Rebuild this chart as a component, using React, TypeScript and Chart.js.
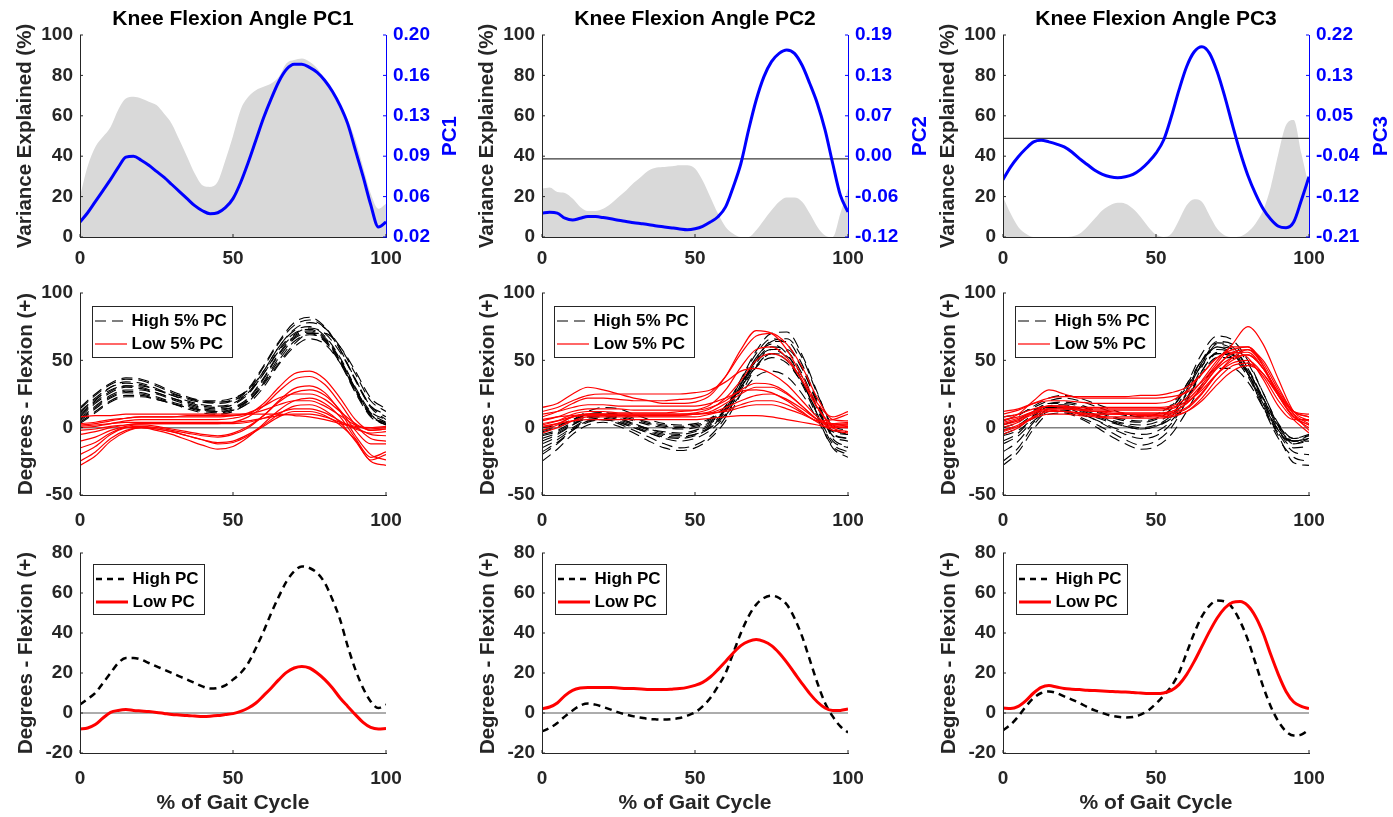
import React, { useEffect, useRef } from 'react';
import { Chart, registerables } from 'chart.js';

Chart.register(...registerables);

const FONT = '"Liberation Sans", Arial, Helvetica, sans-serif';
const INK = '#262626';
const BLUE = '#0000ff';
const RED = '#ff0000';
const GRAY_FILL = '#d9d9d9';

// ---------- categories ----------
const X41 = [0, 2.5, 5, 7.5, 10, 12.5, 15, 17.5, 20, 22.5, 25, 27.5, 30, 32.5, 35, 37.5, 40, 42.5, 45, 47.5, 50,
  52.5, 55, 57.5, 60, 62.5, 65, 67.5, 70, 72.5, 75, 77.5, 80, 82.5, 85, 87.5, 90, 92.5, 95, 97.5, 100];
const X21 = [0, 5, 10, 15, 20, 25, 30, 35, 40, 45, 50, 55, 60, 65, 70, 75, 80, 85, 90, 95, 100];

// ---------- text ----------
const TITLES = ['Knee Flexion Angle PC1', 'Knee Flexion Angle PC2', 'Knee Flexion Angle PC3'];
const PC_NAMES = ['PC1', 'PC2', 'PC3'];
const VAR_TITLE = 'Variance Explained (%)';
const DEG_TITLE = 'Degrees - Flexion (+)';
const X_TITLE = '% of Gait Cycle';
const LEG_MID = ['High 5% PC', 'Low 5% PC'];
const LEG_BOT = ['High PC', 'Low PC'];

// ---------- right-axis tick labels ----------
const RIGHT_MIN = [0.02, -0.12, -0.21];
const RIGHT_MAX = [0.20, 0.19, 0.22];
const RIGHT_LABELS = [
  ['0.02', '0.06', '0.09', '0.13', '0.16', '0.20'],
  ['-0.12', '-0.06', '0.00', '0.07', '0.13', '0.19'],
  ['-0.21', '-0.12', '-0.04', '0.05', '0.13', '0.22'],
];

// ---------- row 1: variance explained (%) ----------
const PC1_VAR = [20, 35, 44.6, 49.6, 54.5, 63, 68.6, 69.4, 68.6, 67, 65.3, 61, 56, 48, 39.7, 31.4, 25.6, 24.8, 27.3, 38, 50,
  63, 69.4, 72.7, 74.4, 76, 79.3, 86, 87.6, 88.4, 86.8, 83.5, 77.7, 71, 64.5, 57.9, 48, 34.7, 21.5, 14, 16.5];
const PC2_VAR = [24, 24.5, 22.3, 21.8, 19, 14.9, 12.9, 12.9, 14, 16.5, 19.8, 23, 26.8, 30, 33, 34.4, 34.7, 35, 35.5, 35.5, 33.9,
  28, 19.8, 11.6, 5, 1.6, 0, 0, 3.3, 8.3, 13.2, 17.4, 19.5, 19.5, 17.4, 11.6, 5, 0.8, 0, 11.6, 24];
const PC3_VAR = [19.8, 11.6, 5, 1.6, 0, 0, 0, 0, 0, 0.3, 1.6, 5, 9.1, 13.2, 15.7, 16.9, 16.5, 14, 9.9, 5, 1.2,
  0, 1.6, 8.3, 15.7, 18.7, 17.4, 10.7, 4.1, 0.8, 0, 0.3, 2.5, 6.6, 13.2, 24.8, 41.3, 55.4, 57.9, 41.3, 24.8];

// ---------- row 1: PC loading vectors ----------
const PC1_LOAD = [0.0333, 0.0416, 0.0515, 0.0614, 0.0713, 0.0821, 0.0911, 0.092, 0.0884, 0.0839, 0.0785, 0.0731, 0.0668,
  0.0605, 0.0542, 0.0479, 0.0434, 0.0407, 0.0416, 0.0461, 0.0542, 0.0686, 0.0866, 0.1064, 0.1262, 0.1433, 0.1586, 0.1694,
  0.1739, 0.1739, 0.1712, 0.1667, 0.1595, 0.1496, 0.137, 0.1208, 0.0974, 0.074, 0.0488, 0.029, 0.0333];
const PC2_LOAD = [-0.0831, -0.0822, -0.0834, -0.0912, -0.094, -0.0912, -0.0884, -0.0887, -0.0902, -0.0921, -0.0943, -0.0961,
  -0.098, -0.0995, -0.1011, -0.103, -0.1045, -0.1061, -0.1076, -0.1088, -0.1073, -0.1036, -0.0971, -0.089, -0.0738, -0.0431,
  -0.0072, 0.044, 0.0902, 0.1258, 0.1491, 0.1618, 0.1671, 0.1618, 0.1435, 0.1156, 0.0846, 0.0443, -0.0072, -0.0558, -0.0816];
const PC3_LOAD = [-0.0879, -0.0608, -0.0393, -0.0217, -0.0075, -0.004, -0.0075, -0.0122, -0.0182, -0.029, -0.0432, -0.0556,
  -0.0681, -0.0767, -0.0819, -0.084, -0.0819, -0.0767, -0.066, -0.0509, -0.0316, -0.0036, 0.0459, 0.1026, 0.1525, 0.1843,
  0.1951, 0.1809, 0.1417, 0.0884, 0.0282, -0.029, -0.0784, -0.1176, -0.1498, -0.1722, -0.1872, -0.1902, -0.1782, -0.1317, -0.0819];

// ---------- row 2: individual curves, high / low 5% ----------
const P1_HIGH = [
  [10, 20, 30, 34, 33, 29, 24, 20, 17, 16, 18, 26, 42, 60, 72, 75, 68, 52, 30, 12, 6],
  [14, 24, 32, 36, 35, 31, 26, 22, 19, 18, 20, 28, 45, 63, 76, 80, 74, 58, 36, 16, 10],
  [6, 15, 23, 27, 26, 23, 19, 16, 13, 12, 14, 21, 36, 54, 67, 71, 65, 49, 27, 9, 3],
  [4, 12, 20, 24, 24, 21, 18, 15, 12, 11, 13, 20, 34, 52, 66, 70, 64, 48, 26, 8, 2],
  [8, 18, 26, 30, 29, 26, 22, 19, 16, 15, 17, 25, 40, 58, 70, 73, 67, 51, 29, 11, 4],
  [12, 22, 30, 33, 32, 28, 24, 21, 19, 19, 20, 26, 40, 57, 69, 74, 70, 56, 36, 16, 8],
  [5, 14, 22, 26, 25, 22, 18, 14, 11, 10, 12, 19, 33, 50, 64, 69, 65, 50, 29, 10, 3],
  [9, 19, 27, 31, 31, 28, 25, 22, 20, 20, 22, 28, 42, 60, 73, 78, 74, 60, 40, 20, 12],
  [7, 16, 24, 28, 28, 25, 21, 17, 14, 13, 15, 22, 37, 55, 68, 72, 66, 50, 28, 9, 2],
  [11, 21, 28, 31, 30, 26, 22, 18, 15, 14, 15, 20, 32, 48, 62, 70, 70, 60, 42, 22, 14],
  [3, 11, 19, 23, 23, 21, 18, 15, 13, 12, 13, 18, 30, 47, 60, 66, 62, 48, 28, 10, 1],
  [15, 25, 33, 37, 36, 32, 27, 23, 20, 19, 21, 29, 46, 64, 78, 82, 75, 58, 35, 15, 6],
];
const P1_LOW = [
  [0, 1, 3, 5, 6, 6, 6, 6, 6, 6, 7, 10, 18, 30, 40, 42, 36, 22, 6, -2, -1],
  [-5, -3, 0, 2, 3, 3, 3, 3, 3, 3, 4, 8, 16, 27, 36, 38, 32, 18, 2, -8, -10],
  [-20, -14, -5, 0, 1, 0, -2, -4, -6, -7, -5, 0, 9, 20, 29, 31, 26, 12, -6, -20, -24],
  [-10, -7, -2, 1, 2, 1, -1, -3, -5, -6, -4, 1, 9, 19, 26, 28, 24, 13, -2, -12, -12],
  [2, 3, 5, 7, 8, 8, 8, 8, 8, 8, 9, 11, 16, 22, 25, 25, 21, 12, 3, -2, -1],
  [-25, -18, -8, -2, 0, -2, -5, -9, -13, -16, -14, -7, 3, 13, 20, 22, 18, 8, -8, -22, -18],
  [3, 4, 6, 7, 8, 8, 8, 9, 9, 9, 9, 10, 13, 17, 20, 20, 16, 9, 2, -1, 0],
  [-15, -11, -4, 0, 0, -1, -3, -6, -9, -11, -10, -5, 2, 10, 16, 17, 13, 4, -10, -25, -28],
  [-2, -1, 1, 2, 3, 3, 3, 3, 3, 3, 3, 4, 7, 11, 14, 14, 11, 5, -1, -4, -3],
  [-28, -21, -10, -3, 0, -1, -3, -6, -9, -12, -11, -6, 1, 8, 12, 12, 9, 2, -9, -24, -20],
  [1, 2, 3, 4, 4, 4, 4, 4, 4, 4, 4, 5, 7, 9, 10, 10, 8, 4, 1, 0, 1],
  [8, 9, 9, 10, 10, 10, 10, 10, 10, 10, 10, 10, 10, 10, 9, 8, 6, 3, 0, -5, -6],
];
const P2_HIGH = [
  [-20, -12, -2, 5, 6, 3, -2, -7, -12, -15, -13, -6, 8, 30, 52, 62, 55, 35, 10, -12, -18],
  [-10, -5, 2, 8, 9, 7, 3, -1, -4, -5, -3, 2, 14, 35, 55, 66, 62, 44, 18, -5, -8],
  [-3, 0, 5, 10, 11, 10, 7, 4, 2, 1, 2, 6, 16, 36, 57, 70, 71, 54, 26, 0, -5],
  [-15, -9, -1, 5, 6, 4, 0, -4, -7, -8, -6, 0, 12, 32, 50, 58, 52, 34, 10, -10, -15],
  [-25, -16, -5, 2, 4, 1, -4, -10, -15, -17, -15, -8, 5, 25, 45, 55, 50, 32, 8, -15, -22],
  [-5, -2, 4, 9, 10, 8, 5, 2, 0, -1, 0, 4, 14, 32, 50, 60, 57, 40, 15, -3, -5],
  [-8, -4, 2, 7, 8, 6, 2, -2, -5, -6, -5, 0, 10, 28, 46, 55, 53, 38, 14, -6, -10],
  [-2, 1, 6, 12, 15, 14, 10, 6, 3, 2, 3, 7, 16, 33, 52, 64, 66, 52, 25, 2, -2],
  [-18, -11, -2, 4, 6, 4, 0, -4, -8, -10, -8, -2, 9, 25, 38, 42, 38, 25, 6, -14, -20],
  [-12, -7, 0, 6, 7, 5, 1, -3, -6, -7, -5, 1, 12, 30, 50, 64, 64, 47, 20, -4, -8],
  [0, 2, 6, 10, 11, 9, 6, 3, 1, 0, 1, 5, 14, 30, 45, 52, 48, 33, 12, -2, -3],
  [-6, -3, 3, 8, 9, 7, 3, -1, -3, -4, -2, 3, 13, 30, 48, 58, 58, 44, 18, -8, -14],
];
const P2_LOW = [
  [15, 18, 25, 30, 28, 25, 22, 20, 18, 18, 19, 24, 38, 58, 72, 70, 58, 38, 18, 8, 12],
  [8, 12, 18, 22, 22, 21, 20, 20, 20, 21, 22, 26, 38, 55, 68, 70, 62, 45, 22, 6, 5],
  [2, 5, 10, 12, 12, 11, 11, 11, 11, 12, 13, 17, 28, 45, 58, 60, 52, 35, 15, 2, 0],
  [12, 15, 20, 24, 25, 25, 25, 25, 25, 25, 26, 28, 34, 42, 44, 40, 32, 20, 8, 2, 3],
  [-2, 2, 8, 10, 10, 10, 10, 10, 10, 10, 11, 14, 22, 35, 50, 55, 50, 35, 15, 0, -3],
  [5, 8, 12, 14, 14, 14, 13, 13, 13, 13, 13, 15, 20, 28, 33, 32, 26, 16, 6, 1, 2],
  [0, 3, 8, 10, 10, 9, 9, 9, 9, 9, 10, 12, 18, 25, 30, 30, 25, 16, 6, 0, 0],
  [10, 12, 15, 17, 17, 16, 16, 16, 16, 16, 16, 18, 22, 27, 28, 26, 20, 12, 5, 6, 10],
  [3, 5, 8, 9, 9, 9, 9, 9, 9, 9, 10, 11, 15, 20, 24, 25, 21, 14, 6, 2, 2],
  [-4, 0, 5, 8, 8, 8, 8, 8, 8, 8, 8, 10, 13, 17, 20, 20, 17, 11, 4, -2, -4],
  [6, 8, 9, 10, 10, 10, 10, 10, 10, 10, 10, 11, 12, 15, 17, 17, 14, 10, 5, 3, 4],
  [1, 3, 5, 6, 6, 6, 6, 6, 6, 6, 6, 7, 8, 9, 9, 8, 6, 4, 2, 0, 1],
];
const P3_HIGH = [
  [-25, -15, 2, 12, 12, 8, 3, -3, -9, -13, -10, 0, 20, 45, 62, 58, 40, 15, -8, -22, -25],
  [-10, -4, 8, 16, 17, 14, 10, 5, 1, -1, 1, 8, 25, 48, 63, 60, 44, 20, -2, -12, -10],
  [0, 4, 12, 18, 18, 16, 12, 8, 5, 4, 6, 14, 32, 55, 68, 65, 50, 26, 3, -8, -5],
  [-18, -10, 4, 14, 15, 11, 6, 0, -5, -8, -6, 3, 20, 42, 56, 54, 40, 18, -4, -18, -20],
  [-5, 0, 9, 15, 15, 13, 9, 5, 2, 0, 2, 9, 26, 48, 60, 58, 44, 22, 0, -10, -8],
  [5, 9, 16, 22, 24, 22, 18, 14, 10, 8, 10, 17, 32, 50, 60, 55, 40, 18, -2, -10, -6],
  [-28, -18, -1, 10, 11, 7, 1, -6, -12, -16, -14, -5, 12, 32, 44, 44, 34, 15, -6, -26, -28],
  [-2, 2, 10, 16, 16, 14, 10, 6, 3, 2, 4, 11, 28, 50, 64, 62, 48, 26, 2, -8, -6],
  [2, 6, 13, 18, 19, 17, 13, 9, 6, 5, 7, 14, 30, 50, 58, 55, 42, 22, 2, -10, -10],
  [-12, -6, 5, 12, 13, 10, 6, 1, -3, -5, -3, 5, 20, 40, 52, 52, 40, 20, -2, -15, -14],
  [-6, -2, 7, 14, 14, 12, 8, 4, 1, -1, 1, 7, 22, 42, 55, 54, 42, 22, 1, -12, -8],
  [8, 10, 15, 20, 22, 20, 16, 12, 9, 8, 10, 16, 30, 46, 55, 52, 38, 16, -4, -10, -8],
];
const P3_LOW = [
  [5, 10, 20, 28, 25, 22, 22, 22, 22, 22, 22, 23, 26, 34, 48, 62, 75, 62, 36, 12, 5],
  [10, 13, 18, 22, 23, 23, 23, 23, 23, 24, 24, 26, 30, 40, 52, 58, 60, 48, 28, 12, 8],
  [0, 4, 12, 16, 15, 14, 13, 13, 13, 13, 13, 14, 20, 32, 46, 55, 56, 44, 24, 8, 2],
  [-5, 0, 8, 12, 12, 11, 10, 10, 10, 10, 10, 11, 15, 26, 40, 52, 58, 50, 30, 10, -2],
  [8, 10, 14, 16, 16, 15, 15, 15, 15, 15, 15, 16, 22, 35, 50, 60, 60, 46, 24, 8, 5],
  [2, 5, 10, 13, 12, 11, 10, 10, 10, 9, 9, 10, 14, 25, 40, 50, 54, 44, 26, 10, 3],
  [12, 14, 18, 20, 20, 19, 18, 18, 18, 18, 18, 20, 27, 40, 52, 56, 52, 36, 16, 6, 6],
  [-3, 1, 7, 10, 10, 9, 8, 7, 7, 7, 7, 8, 12, 22, 36, 46, 48, 38, 20, 6, -4],
  [3, 6, 11, 14, 14, 13, 12, 12, 11, 11, 11, 12, 18, 30, 45, 56, 58, 46, 24, 8, 2],
  [6, 8, 12, 14, 14, 13, 12, 11, 10, 10, 10, 12, 18, 30, 44, 52, 54, 44, 26, 12, 8],
  [-2, 2, 8, 12, 12, 10, 9, 8, 8, 8, 8, 9, 12, 20, 32, 42, 46, 40, 24, 8, 0],
  [4, 7, 12, 16, 16, 15, 14, 14, 14, 14, 14, 15, 19, 28, 40, 48, 50, 40, 24, 12, 10],
];

// ---------- row 3: mean high / low curves ----------
const M1_HIGH = [4.2, 7, 10, 15, 20, 25, 27.5, 27.5, 26.7, 25, 23.3, 21.7, 20, 18.3, 16.7, 15, 13.3, 12.2, 12.5, 13.8, 16.7,
  20, 25, 32.5, 40.8, 50, 58.3, 65.8, 70.8, 73.3, 72.5, 70, 65, 56.7, 46.7, 33.3, 21.7, 12.5, 5.8, 2.5, 4.2];
const M1_LOW = [-8, -7.5, -5.8, -2.5, 0.3, 1.3, 1.7, 1.3, 1, 0.7, 0.3, -0.2, -0.7, -1, -1.3, -1.5, -1.7, -1.6, -1.3, -0.8, -0.3,
  0.8, 2.5, 5, 8.7, 12.5, 16.7, 20.3, 22.5, 23.3, 22.5, 20, 16.7, 12.5, 7.5, 3.3, -0.8, -4.7, -7.2, -8, -7.8];
const M2_HIGH = [-9.2, -7.5, -5, -1.7, 1.3, 3.7, 4.7, 4.2, 3, 1.7, 0.3, -0.8, -1.7, -2.4, -3, -3.2, -3.3, -3, -2.5, -1.3, 0.3,
  3.3, 7.5, 13.3, 20, 30, 40, 48.3, 54.2, 57.5, 58.7, 57.5, 54.2, 47.5, 38.3, 26.7, 15, 5, -1.7, -6.7, -9.7];
const M2_LOW = [2.2, 3, 5, 8.7, 11.3, 12.5, 12.8, 12.8, 12.8, 12.7, 12.5, 12.3, 12.2, 12, 11.7, 11.7, 11.7, 11.9, 12.2, 12.8, 13.8,
  15.3, 18, 21.7, 25.8, 30, 33.7, 35.8, 36.7, 35.8, 33.7, 30, 25.3, 20, 14.7, 9.7, 5.5, 2.5, 1.2, 1.3, 2];
const M3_HIGH = [-8.7, -5.8, -1.7, 3.3, 7.5, 10, 10.8, 10, 8.3, 6.7, 5, 3, 1.3, 0, -1.2, -1.9, -2.2, -2, -0.8, 1.3, 4.7,
  8.7, 13.3, 20, 30, 40, 48.3, 53.7, 56.2, 55.8, 52.5, 45.8, 36.7, 25, 13.3, 3.3, -4.2, -9.2, -11.3, -10.8, -8.3];
const M3_LOW = [2.5, 2.2, 3.3, 6.2, 10, 12.8, 13.7, 13, 12.2, 11.9, 11.7, 11.4, 11.2, 11, 10.8, 10.6, 10.5, 10.2, 10, 9.8, 9.7,
  10, 11.3, 14.2, 19.2, 25.8, 33.3, 40.8, 47.5, 52.5, 55.3, 55.8, 53.7, 48.3, 40, 29.2, 19.2, 10.8, 5.5, 3.3, 2.2];

const VARIANCE = [PC1_VAR, PC2_VAR, PC3_VAR];
const LOADINGS = [PC1_LOAD, PC2_LOAD, PC3_LOAD];
const MID_HIGH = [P1_HIGH, P2_HIGH, P3_HIGH];
const MID_LOW = [P1_LOW, P2_LOW, P3_LOW];
const BOT_HIGH = [M1_HIGH, M2_HIGH, M3_HIGH];
const BOT_LOW = [M1_LOW, M2_LOW, M3_LOW];

// ---------- layout ----------
const COL_LEFT = [80, 542, 1003];
const LEFT_W = 80;
const PLOT_W = 306;

const tickFont = { family: FONT, size: 19, weight: 'bold' as const };
const titleFont = { family: FONT, size: 21, weight: 'bold' as const };
const yLabelFont = { family: FONT, size: 20.5, weight: 'bold' as const };

const pts = (xs: number[], ys: number[]) => ys.map((y, i) => ({ x: xs[i], y }));

// ---------- plugins ----------
const inwardTicks = {
  id: 'inwardTicks',
  afterDraw(chart: any) {
    const { ctx, chartArea: ca } = chart;
    ctx.save();
    ctx.lineWidth = 1;
    Object.values(chart.scales).forEach((s: any) => {
      ctx.strokeStyle = s.options.border.color;
      s.ticks.forEach((t: any) => {
        const p = s.getPixelForValue(t.value);
        ctx.beginPath();
        if (s.axis === 'x') {
          ctx.moveTo(p, ca.bottom);
          ctx.lineTo(p, ca.bottom - 3);
        } else if (s.position === 'left') {
          ctx.moveTo(ca.left, p);
          ctx.lineTo(ca.left + 3, p);
        } else {
          ctx.moveTo(ca.right, p);
          ctx.lineTo(ca.right - 3, p);
        }
        ctx.stroke();
      });
    });
    ctx.restore();
  },
};

const rightTitle = {
  id: 'rightTitle',
  afterDraw(chart: any, _a: any, opts: any) {
    if (!opts || !opts.text) return;
    const { ctx, chartArea } = chart;
    ctx.save();
    ctx.translate(chartArea.right + opts.offset, (chartArea.top + chartArea.bottom) / 2);
    ctx.rotate(-Math.PI / 2);
    ctx.font = `bold 20.5px ${FONT}`;
    ctx.fillStyle = opts.color;
    ctx.textAlign = 'center';
    ctx.textBaseline = 'middle';
    ctx.fillText(opts.text, 0, 0);
    ctx.restore();
  },
};

const boxLegend = {
  id: 'boxLegend',
  afterDraw(chart: any, _a: any, opts: any) {
    if (!opts || !opts.items) return;
    const { ctx, chartArea } = chart;
    const x = Math.round(chartArea.left + opts.dx);
    const y = Math.round(chartArea.top + opts.dy);
    ctx.save();
    ctx.font = `bold 17px ${FONT}`;
    const tw = Math.max(...opts.items.map((it: any) => ctx.measureText(it.label).width));
    const w = Math.round(39.5 + tw + 5.5);
    const h = opts.h;
    ctx.fillStyle = '#ffffff';
    ctx.fillRect(x, y, w, h);
    ctx.strokeStyle = INK;
    ctx.lineWidth = 1;
    ctx.strokeRect(x + 0.5, y + 0.5, w, h);
    opts.items.forEach((it: any, i: number) => {
      const cy = y + 15 + i * 23;
      ctx.beginPath();
      ctx.setLineDash(it.dash || []);
      ctx.strokeStyle = it.color;
      ctx.lineWidth = it.width;
      ctx.moveTo(x + 3, cy);
      ctx.lineTo(x + 35, cy);
      ctx.stroke();
      ctx.setLineDash([]);
      ctx.fillStyle = '#000000';
      ctx.textAlign = 'left';
      ctx.textBaseline = 'middle';
      ctx.fillText(it.label, x + 39.5, cy);
    });
    ctx.restore();
  },
};

// ---------- scale builders ----------
function xScale(withTitle: boolean, labelPad: number) {
  return {
    type: 'linear',
    position: 'bottom',
    min: 0,
    max: 100,
    ticks: { stepSize: 50, font: tickFont, color: INK, padding: labelPad, maxRotation: 0, autoSkip: false },
    grid: { display: false, drawTicks: false },
    border: { display: true, color: INK, width: 1, z: 1 },
    title: withTitle
      ? { display: true, text: X_TITLE, font: titleFont, color: INK, padding: { top: 0, bottom: 1.5 } }
      : { display: false },
    afterFit: (s: any) => {
      s.height = withTitle ? 64 : 35;
    },
  };
}

function yLeft(min: number, max: number, step: number, title: string, pad: number) {
  return {
    type: 'linear',
    position: 'left',
    min,
    max,
    ticks: { stepSize: step, font: tickFont, color: INK, padding: 7 },
    grid: { display: false, drawTicks: false },
    border: { display: true, color: INK, width: 1, z: 1 },
    title: { display: true, text: title, font: yLabelFont, color: INK, padding: { top: pad, bottom: 0 } },
    afterFit: (s: any) => {
      s.width = LEFT_W;
    },
  };
}

const baseOptions = (padding: any) => ({
  responsive: false,
  animation: false,
  devicePixelRatio: 1,
  layout: { padding },
  elements: { point: { radius: 0 } },
});

// ---------- row 1 ----------
function makeTop(i: number) {
  const rightW = i === 0 ? 75 : 84;
  const min = RIGHT_MIN[i];
  const max = RIGHT_MAX[i];
  const labels = RIGHT_LABELS[i];
  const datasets: any[] = [
    {
      label: PC_NAMES[i],
      data: pts(X41, LOADINGS[i]),
      yAxisID: 'y1',
      borderColor: BLUE,
      borderWidth: 3,
      pointRadius: 0,
      fill: false,
      cubicInterpolationMode: 'monotone',
      order: 0,
    },
  ];
  if (min < 0) {
    datasets.push({
      label: 'zero',
      data: pts([0, 100], [0, 0]),
      yAxisID: 'y1',
      borderColor: '#3a3a3a',
      borderWidth: 1.2,
      pointRadius: 0,
      fill: false,
      order: 1,
    });
  }
  datasets.push({
    label: VAR_TITLE,
    data: pts(X41, VARIANCE[i]),
    yAxisID: 'y',
    borderColor: 'rgba(0,0,0,0)',
    borderWidth: 0,
    backgroundColor: GRAY_FILL,
    pointRadius: 0,
    fill: 'origin',
    cubicInterpolationMode: 'monotone',
    order: 2,
  });
  return {
    type: 'line',
    data: { datasets },
    options: {
      ...baseOptions({ top: 0, right: 0, bottom: 0, left: 0 }),
      plugins: {
        legend: { display: false },
        tooltip: { enabled: false },
        title: {
          display: true,
          text: TITLES[i],
          font: titleFont,
          color: '#000000',
          padding: { top: 6.8, bottom: 3 },
          fullSize: false,
        },
        rightTitle: { text: PC_NAMES[i], color: BLUE, offset: i === 0 ? 64 : 72 },
      },
      scales: {
        x: xScale(false, 10.5),
        y: yLeft(0, 100, 20, VAR_TITLE, 13),
        y1: {
          type: 'linear',
          position: 'right',
          min,
          max,
          afterBuildTicks: (s: any) => {
            s.ticks = labels.map((_l, k) => ({ value: min + (k * (max - min)) / (labels.length - 1) }));
          },
          ticks: {
            font: tickFont,
            color: BLUE,
            padding: 7,
            callback: (_v: any, k: number) => labels[k],
          },
          grid: { display: false, drawTicks: false },
          border: { display: true, color: BLUE, width: 1, z: 1 },
          afterFit: (s: any) => {
            s.width = rightW;
          },
        },
      },
    },
    plugins: [inwardTicks, rightTitle],
  };
}

// ---------- row 2 ----------
function makeMid(i: number) {
  const datasets: any[] = [];
  MID_LOW[i].forEach((c, k) =>
    datasets.push({
      label: k === 0 ? LEG_MID[1] : '',
      data: pts(X21, c),
      borderColor: RED,
      borderWidth: 1.2,
      pointRadius: 0,
      fill: false,
      cubicInterpolationMode: 'monotone',
      order: 0,
    })
  );
  MID_HIGH[i].forEach((c, k) =>
    datasets.push({
      label: k === 0 ? LEG_MID[0] : '',
      data: pts(X21, c),
      borderColor: '#000000',
      borderWidth: 1.1,
      borderDash: [11, 6],
      pointRadius: 0,
      fill: false,
      cubicInterpolationMode: 'monotone',
      order: 1,
    })
  );
  datasets.push({
    label: 'zero',
    data: pts([0, 100], [0, 0]),
    borderColor: '#808080',
    borderWidth: 1.5,
    pointRadius: 0,
    fill: false,
    order: 2,
  });
  return {
    type: 'line',
    data: { datasets },
    options: {
      ...baseOptions({ top: 20, right: 75, bottom: 0, left: 0 }),
      plugins: {
        legend: { display: false },
        tooltip: { enabled: false },
        boxLegend: {
          dx: 12,
          dy: 13,
          h: 51,
          items: [
            { label: LEG_MID[0], color: '#000000', dash: [11, 6], width: 1.1 },
            { label: LEG_MID[1], color: RED, width: 1.2 },
          ],
        },
      },
      scales: {
        x: xScale(false, 14),
        y: yLeft(-50, 100, 50, DEG_TITLE, 14),
      },
    },
    plugins: [inwardTicks, boxLegend],
  };
}

// ---------- row 3 ----------
function makeBottom(i: number) {
  return {
    type: 'line',
    data: {
      datasets: [
        {
          label: LEG_BOT[1],
          data: pts(X41, BOT_LOW[i]),
          borderColor: RED,
          borderWidth: 3,
          pointRadius: 0,
          fill: false,
          cubicInterpolationMode: 'monotone',
          order: 0,
        },
        {
          label: LEG_BOT[0],
          data: pts(X41, BOT_HIGH[i]),
          borderColor: '#000000',
          borderWidth: 2.5,
          borderDash: [7, 5],
          pointRadius: 0,
          fill: false,
          cubicInterpolationMode: 'monotone',
          order: 1,
        },
        {
          label: 'zero',
          data: pts([0, 100], [0, 0]),
          borderColor: '#5a5a5a',
          borderWidth: 1,
          pointRadius: 0,
          fill: false,
          order: 2,
        },
      ],
    },
    options: {
      ...baseOptions({ top: 20, right: 75, bottom: 0, left: 0 }),
      plugins: {
        legend: { display: false },
        tooltip: { enabled: false },
        boxLegend: {
          dx: 13,
          dy: 11,
          h: 50,
          items: [
            { label: LEG_BOT[0], color: '#000000', dash: [6, 5], width: 2.5 },
            { label: LEG_BOT[1], color: RED, width: 3 },
          ],
        },
      },
      scales: {
        x: xScale(true, 14),
        y: yLeft(-20, 80, 20, DEG_TITLE, 14),
      },
    },
    plugins: [inwardTicks, boxLegend],
  };
}

function ChartCanvas(props: { left: number; top: number; width: number; height: number; make: () => any }) {
  const { left, top, width, height, make } = props;
  const ref = useRef<HTMLCanvasElement | null>(null);
  useEffect(() => {
    if (!ref.current) return;
    const chart = new Chart(ref.current, make() as any);
    return () => chart.destroy();
  }, [make]);
  return (
    <canvas
      ref={ref}
      width={width}
      height={height}
      style={{ position: 'absolute', left, top, width, height, display: 'block' }}
    />
  );
}

const TOP_MAKERS = [0, 1, 2].map((i) => () => makeTop(i));
const MID_MAKERS = [0, 1, 2].map((i) => () => makeMid(i));
const BOT_MAKERS = [0, 1, 2].map((i) => () => makeBottom(i));

export default function App() {
  return (
    <div
      style={{
        position: 'absolute',
        left: 0,
        top: 0,
        width: 1393,
        height: 817,
        overflow: 'hidden',
        background: '#ffffff',
      }}
    >
      {[0, 1, 2].map((i) => (
        <React.Fragment key={i}>
          <ChartCanvas
            left={COL_LEFT[i] - LEFT_W}
            top={0}
            width={LEFT_W + PLOT_W + (i === 0 ? 75 : 84)}
            height={272}
            make={TOP_MAKERS[i]}
          />
          <ChartCanvas left={COL_LEFT[i] - LEFT_W} top={273} width={LEFT_W + PLOT_W + 75} height={257} make={MID_MAKERS[i]} />
          <ChartCanvas left={COL_LEFT[i] - LEFT_W} top={533} width={LEFT_W + PLOT_W + 75} height={284} make={BOT_MAKERS[i]} />
        </React.Fragment>
      ))}
    </div>
  );
}
